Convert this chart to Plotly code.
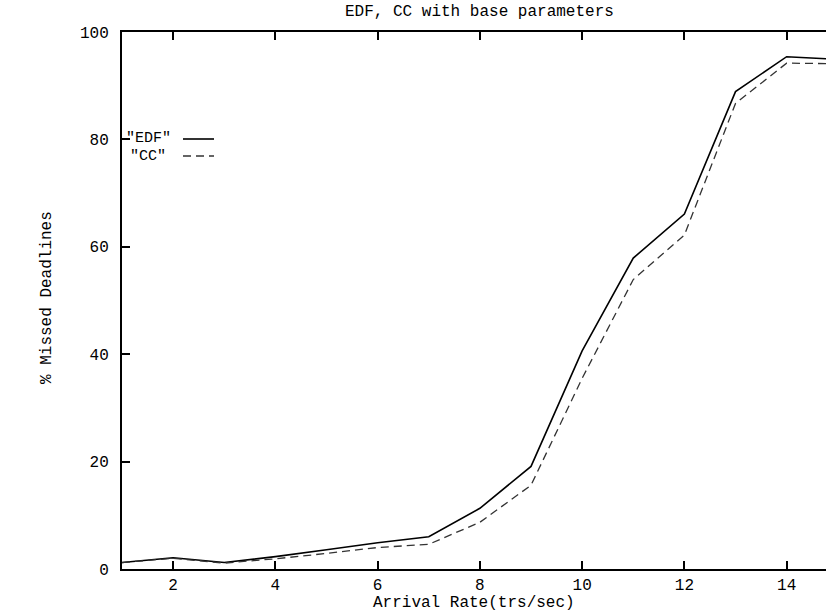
import plotly.graph_objects as go

arrival_rate = [1, 2, 3, 4, 5, 6, 7, 8, 9, 10, 11, 12, 13, 14, 15]
edf_missed = [1.2, 2.1, 1.2, 2.3, 3.6, 4.9, 6.0, 11.3, 19.1, 40.6, 57.9, 66.1, 88.9, 95.4, 94.9]
cc_missed = [1.2, 2.0, 1.1, 1.9, 2.9, 4.0, 4.6, 8.7, 15.6, 35.5, 53.9, 62.2, 86.7, 94.2, 94.1]
x_ticks = [2, 4, 6, 8, 10, 12, 14]
y_ticks = [0, 20, 40, 60, 80, 100]

FONT = "Liberation Mono"
W, H = 826, 614
L, R, T, B = 122, 0, 32, 45
pw, ph = W - L - R, H - T - B

def px(x):
    return (x - L) / pw

def py(y):
    return (H - B - y) / ph

fig = go.Figure()
fig.add_trace(go.Scatter(x=arrival_rate, y=edf_missed, mode="lines", name='"EDF"',
                         line=dict(color="black", width=1.6), showlegend=False))
fig.add_trace(go.Scatter(x=arrival_rate, y=cc_missed, mode="lines", name='"CC"',
                         line=dict(color="#333333", width=1.3, dash="8px,5px"), showlegend=False))

axis_common = dict(showgrid=False, zeroline=False, showline=True, linecolor="black", linewidth=2,
                   ticks="inside", ticklen=8, tickwidth=1.5, tickcolor="black",
                   tickfont=dict(family=FONT, size=16, color="black"))

fig.update_xaxes(range=[1, 14.77], tickvals=x_ticks, mirror="allticks", ticklabelstandoff=0, **axis_common)
fig.update_yaxes(range=[0, 100], tickvals=y_ticks, mirror=False, ticklabelstandoff=8, **axis_common)

ann_font = dict(family=FONT, size=16, color="black")
leg_font = dict(family=FONT, size=15, color="black")
fig.add_annotation(text="EDF, CC with base parameters", xref="paper", yref="paper",
                   x=px(479), y=py(12), showarrow=False, font=ann_font, xanchor="center", yanchor="middle")
fig.add_annotation(text="Arrival Rate(trs/sec)", xref="paper", yref="paper",
                   x=px(474), y=py(603), showarrow=False, font=ann_font, xanchor="center", yanchor="middle")
fig.add_annotation(text="% Missed Deadlines", xref="paper", yref="paper",
                   x=px(47), y=py(298), showarrow=False, font=ann_font, textangle=-90,
                   xanchor="center", yanchor="middle")

# legend (gnuplot style: text then line sample)
fig.add_annotation(text='"EDF"', xref="paper", yref="paper", x=px(173), y=py(138.5),
                   showarrow=False, font=leg_font, xanchor="right", yanchor="middle")
fig.add_annotation(text='"CC"', xref="paper", yref="paper", x=px(168), y=py(156),
                   showarrow=False, font=leg_font, xanchor="right", yanchor="middle")
fig.add_shape(type="line", xref="paper", yref="paper", x0=px(183), x1=px(214), y0=py(139), y1=py(139),
              line=dict(color="black", width=1.6))
fig.add_shape(type="line", xref="paper", yref="paper", x0=px(183), x1=px(214), y0=py(156), y1=py(156),
              line=dict(color="#333333", width=1.3, dash="8px,5px"))

fig.update_layout(width=W, height=H, margin=dict(l=L, r=R, t=T, b=B),
                  paper_bgcolor="white", plot_bgcolor="white", showlegend=False)

fig.write_html("out.html")
